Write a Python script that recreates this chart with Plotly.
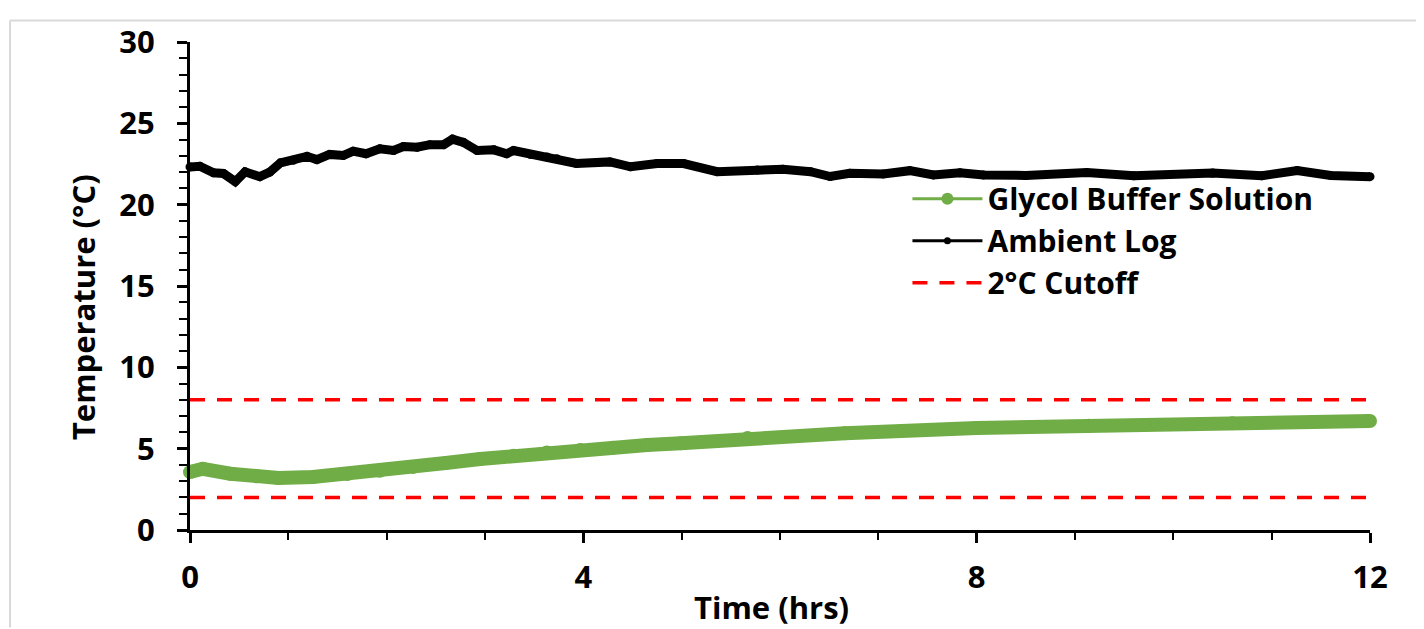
import plotly.graph_objects as go

# ---- data ----
ambient_t = [0, 0.1, 0.24, 0.34, 0.46, 0.56, 0.71, 0.81, 0.92, 1.05, 1.19, 1.29, 1.42, 1.56,
             1.66, 1.79, 1.93, 2.07, 2.17, 2.31, 2.44, 2.58, 2.67, 2.78, 2.92, 3.09, 3.22,
             3.29, 3.46, 3.63, 3.73, 3.93, 4.27, 4.48, 4.75, 5.02, 5.36, 5.77, 6.03, 6.31,
             6.51, 6.71, 7.05, 7.32, 7.56, 7.83, 8.07, 8.5, 9.12, 9.6, 10.4, 10.9, 11.26,
             11.6, 12.0]
ambient_v = [22.32, 22.36, 21.96, 21.92, 21.42, 22.02, 21.72, 22.0, 22.57, 22.73, 22.97, 22.77,
             23.09, 23.03, 23.29, 23.13, 23.43, 23.33, 23.57, 23.53, 23.69, 23.69, 24.03, 23.83,
             23.33, 23.37, 23.13, 23.33, 23.09, 22.93, 22.83, 22.53, 22.63, 22.33, 22.53, 22.53,
             22.03, 22.13, 22.17, 22.03, 21.73, 21.93, 21.89, 22.09, 21.83, 21.96, 21.83, 21.8,
             21.97, 21.78, 21.95, 21.78, 22.1, 21.8, 21.72]

glycol_t = [0.0, 0.13, 0.41, 0.68, 0.9, 1.25, 1.6, 1.93, 2.27, 2.6, 2.95, 3.29, 3.63, 3.97,
            4.3, 4.65, 4.99, 5.67, 6.66, 8.0, 9.14, 10.6, 12.0]
glycol_v = [3.56, 3.76, 3.46, 3.3, 3.2, 3.26, 3.44, 3.64, 3.88, 4.12, 4.36, 4.56, 4.76, 4.92,
            5.06, 5.22, 5.33, 5.65, 5.95, 6.27, 6.41, 6.57, 6.7]

cutoff_t = [0, 12]
cutoff_upper = [8, 8]
cutoff_lower = [2, 2]

x_ticks = [0, 4, 8, 12]
y_ticks = [0, 5, 10, 15, 20, 25, 30]

GREEN = "#70AD47"
FONT = dict(family="Open Sans", size=31, color="black", weight=700)
LEGEND_FONT = dict(family="Open Sans", size=30, color="black", weight=700)

fig = go.Figure()

# thick bands (dense markers in the original)
fig.add_trace(go.Scatter(x=glycol_t, y=glycol_v, mode="lines+markers", showlegend=False,
                         line=dict(color=GREEN, width=14), marker=dict(color=GREEN, size=14),
                         cliponaxis=False, hoverinfo="skip"))
fig.add_trace(go.Scatter(x=ambient_t, y=ambient_v, mode="lines+markers", showlegend=False,
                         line=dict(color="black", width=9), marker=dict(color="black", size=9),
                         cliponaxis=False, hoverinfo="skip"))

# legend-bearing traces
fig.add_trace(go.Scatter(x=glycol_t, y=glycol_v, mode="lines+markers", name="Glycol Buffer Solution",
                         line=dict(color=GREEN, width=3), marker=dict(color=GREEN, size=12),
                         cliponaxis=False))
fig.add_trace(go.Scatter(x=ambient_t, y=ambient_v, mode="lines+markers", name="Ambient Log",
                         line=dict(color="black", width=3), marker=dict(color="black", size=7),
                         cliponaxis=False))
fig.add_trace(go.Scatter(x=cutoff_t + [None] + cutoff_t, y=cutoff_upper + [None] + cutoff_lower,
                         mode="lines", name="2°C Cutoff",
                         line=dict(color="#FF0000", width=3.5, dash="15px,12px")))

# page body has an 8px margin, so the figure is offset by 8px right/down
fig.update_layout(
    width=1416, height=621,
    margin=dict(l=182, r=54, t=25, b=99),
    paper_bgcolor="white", plot_bgcolor="white",
    font=FONT,
    legend=dict(x=0.608, y=0.732, xanchor="left", yanchor="top", bgcolor="rgba(0,0,0,0)",
                font=LEGEND_FONT, itemwidth=70, tracegroupgap=0),
    xaxis=dict(range=[0, 12], tickvals=x_ticks, ticktext=[str(v) for v in x_ticks],
               showline=True, linecolor="black", linewidth=3, showgrid=False, zeroline=False,
               ticks="outside", ticklen=10, tickwidth=3, tickcolor="black",
               ticklabelstandoff=8, tickfont=FONT,
               minor=dict(dtick=1, ticks="outside", ticklen=7, tickwidth=2, tickcolor="black")),
    yaxis=dict(range=[0, 30], tickvals=y_ticks, ticktext=[str(v) for v in y_ticks],
               showline=True, linecolor="black", linewidth=3, showgrid=False, zeroline=False,
               ticks="outside", ticklen=10, tickwidth=3, tickcolor="black",
               ticklabelstandoff=16, tickfont=FONT,
               minor=dict(dtick=1, ticks="outside", ticklen=8, tickwidth=2, tickcolor="black")),
    annotations=[
        dict(text="Time (hrs)", x=0.4924, y=-0.157, xref="paper", yref="paper",
             showarrow=False, font=FONT, xanchor="center", yanchor="middle"),
        dict(text="Temperature (°C)", x=-0.0907, y=0.4567, xref="paper", yref="paper",
             showarrow=False, font=FONT, textangle=-90, xanchor="center", yanchor="middle"),
    ],
    shapes=[
        dict(type="line", xref="paper", yref="paper", x0=-0.1525, x1=1.05, y0=1.0443, y1=1.0443,
             line=dict(color="#D9D9D9", width=2)),
        dict(type="line", xref="paper", yref="paper", x0=-0.1525, x1=-0.1525, y0=1.0443, y1=-0.2,
             line=dict(color="#D9D9D9", width=2)),
    ],
)

fig.write_html("out.html")
